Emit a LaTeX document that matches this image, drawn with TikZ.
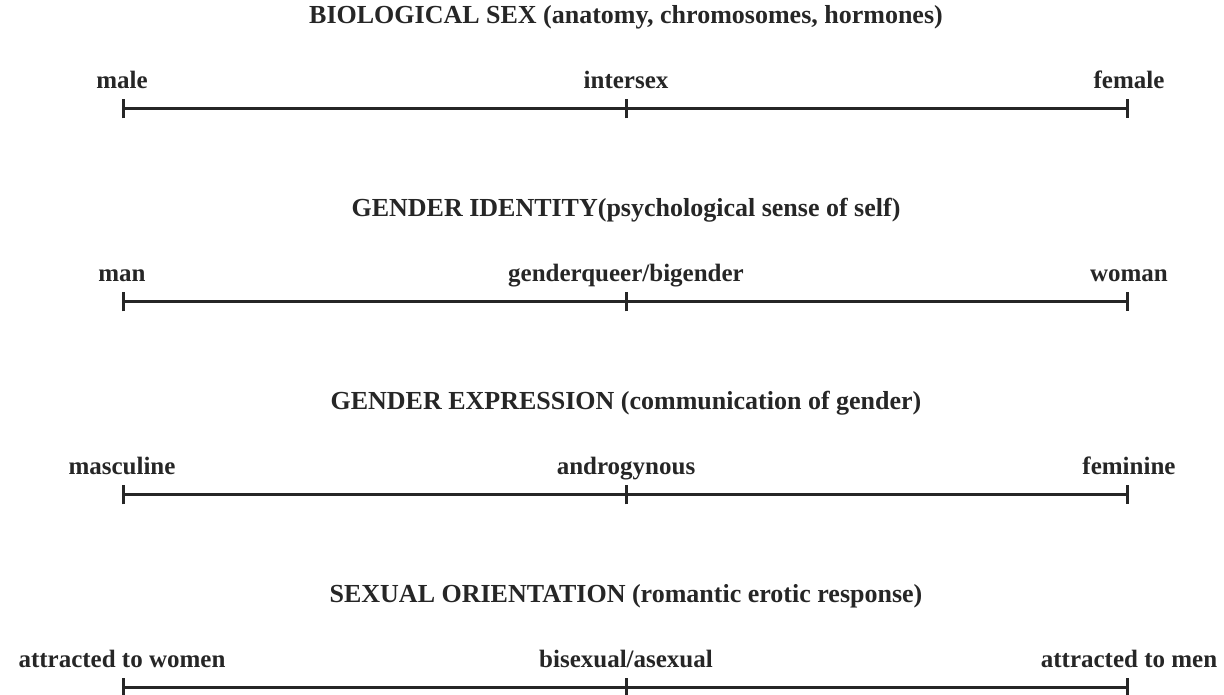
\documentclass[tikz,border=0pt]{standalone}
\usepackage{fontspec}
\setmainfont{Liberation Serif}
\usetikzlibrary{arrows.meta,positioning}

\begin{document}
\begin{tikzpicture}[x=1pt, y=1pt, font=\bfseries]
\tikzset{
  ttl/.style  ={inner sep=0pt, text=black!85, font=\fontsize{26}{30}\selectfont\bfseries},
  lbl/.style  ={inner sep=0pt, text=black!85, font=\fontsize{25}{30}\selectfont\bfseries},
  spectrum/.style={{Bar[width=19pt,line width=3pt]}-{Bar[width=19pt,line width=3pt]},
                line width=3pt, draw=black!85},
  midbar/.style={line width=3pt, draw=black!85}
}
\useasboundingbox (0,0) rectangle (1224,695);
% end points and middle of each scale
\coordinate (bsL) at (122,586); \coordinate (bsM) at (626,586); \coordinate (bsR) at (1129,586);
\coordinate (giL) at (122,393); \coordinate (giM) at (626,393); \coordinate (giR) at (1129,393);
\coordinate (geL) at (122,200); \coordinate (geM) at (626,200); \coordinate (geR) at (1129,200);
\coordinate (soL) at (122,7);   \coordinate (soM) at (626,7);   \coordinate (soR) at (1129,7);
% headings
\node (bsT)[ttl,above=85pt of bsM,anchor=base]{BIOLOGICAL SEX (anatomy, chromosomes, hormones)};
\node (giT)[ttl,above=85pt of giM,anchor=base]{GENDER IDENTITY(psychological sense of self)};
\node (geT)[ttl,above=85pt of geM,anchor=base]{GENDER EXPRESSION (communication of gender)};
\node (soT)[ttl,above=85pt of soM,anchor=base]{SEXUAL ORIENTATION (romantic erotic response)};
% labels
\node (male)[lbl,above=20pt of bsL,anchor=base]{male};
\node (inter)[lbl,above=20pt of bsM,anchor=base]{intersex};
\node (female)[lbl,above=20pt of bsR,anchor=base]{female};
\node (man)[lbl,above=20pt of giL,anchor=base]{man};
\node (gq)[lbl,above=20pt of giM,anchor=base]{genderqueer/bigender};
\node (woman)[lbl,above=20pt of giR,anchor=base]{woman};
\node (masc)[lbl,above=20pt of geL,anchor=base]{masculine};
\node (andro)[lbl,above=20pt of geM,anchor=base]{androgynous};
\node (fem)[lbl,above=20pt of geR,anchor=base]{feminine};
\node (atw)[lbl,above=20pt of soL,anchor=base]{attracted to women};
\node (bia)[lbl,above=20pt of soM,anchor=base]{bisexual/asexual};
\node (atm)[lbl,above=20pt of soR,anchor=base]{attracted to men};
% scales
\draw[spectrum](bsL)--(bsR); \draw[midbar]([yshift=-9.5pt]bsM)--([yshift=9.5pt]bsM);
\draw[spectrum](giL)--(giR); \draw[midbar]([yshift=-9.5pt]giM)--([yshift=9.5pt]giM);
\draw[spectrum](geL)--(geR); \draw[midbar]([yshift=-9.5pt]geM)--([yshift=9.5pt]geM);
\draw[spectrum](soL)--(soR); \draw[midbar]([yshift=-9.5pt]soM)--([yshift=9.5pt]soM);
\end{tikzpicture}
\end{document}
